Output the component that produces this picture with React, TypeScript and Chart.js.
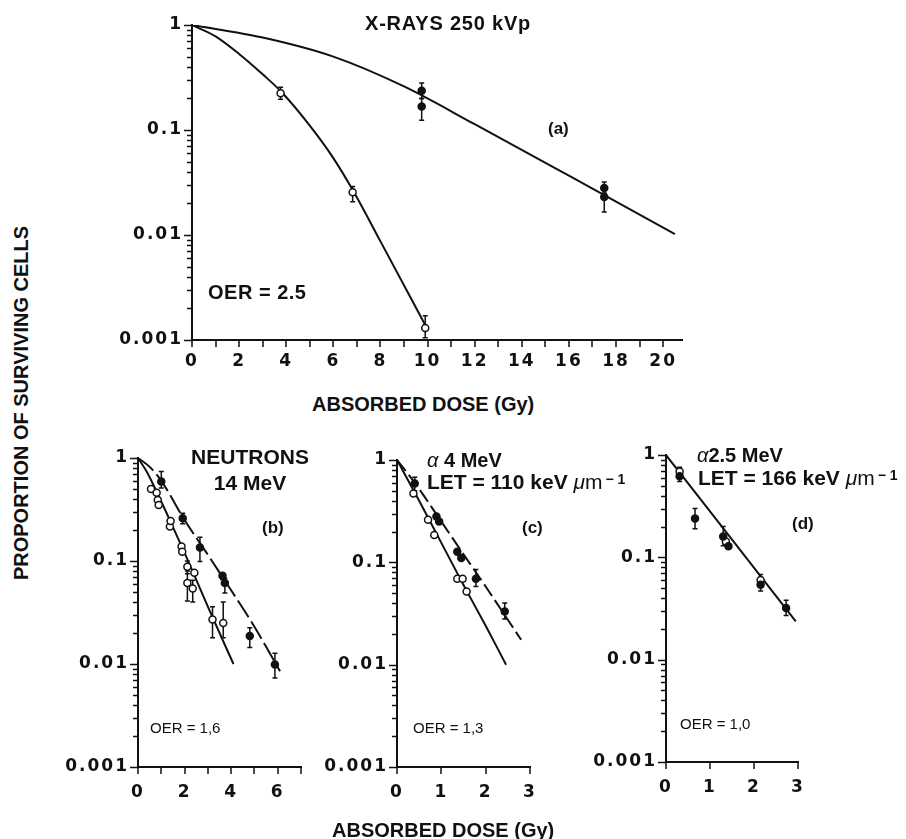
import React, { useEffect, useRef } from "react";
import { Chart, registerables } from "chart.js";

Chart.register(...registerables);

// ---- shared logarithmic survival axis ----
const yDecades = [0.001, 0.01, 0.1];
const yMultipliers = [1, 2, 3, 4, 5, 6, 7, 8, 9];
const yLabelValues = [0.001, 0.01, 0.1, 1];
const yLabelTexts = ["0.001", "0.01", "0.1", "1"];

// ---- (a) X-rays 250 kVp ----
const aXTicks = [0, 1, 2, 3, 4, 5, 6, 7, 8, 9, 10, 11, 12, 13, 14, 15, 16, 17, 18, 19, 20];
const aXLabels = [0, 2, 4, 6, 8, 10, 12, 14, 16, 18, 20];
const aOxicCurveDose = [0, 1, 2, 3, 3.8, 5, 6, 6.9, 8, 10];
const aOxicCurveSurv = [1, 0.78, 0.53, 0.339, 0.23, 0.11, 0.054, 0.025, 0.0087, 0.00126];
const aHypoxicCurveDose = [0, 3, 6, 9, 12, 16, 20.5];
const aHypoxicCurveSurv = [1, 0.76, 0.5, 0.26, 0.1135, 0.0367, 0.0102];
const aOxicDose = [3.76, 6.82, 9.9];
const aOxicSurv = [0.224, 0.0255, 0.0013];
const aOxicLow = [0.196, 0.0207, 0.00105];
const aOxicHigh = [0.255, 0.029, 0.0017];
const aHypoxicDose = [9.75, 9.75, 17.5, 17.5];
const aHypoxicSurv = [0.237, 0.167, 0.028, 0.023];
const aHypoxicLow = [0.2, 0.124, 0.025, 0.0166];
const aHypoxicHigh = [0.28, 0.2, 0.032, 0.025];

// ---- (b) neutrons 14 MeV ----
const bXTicks = [0, 1, 2, 3, 4, 5, 6, 7];
const bXLabels = [0, 2, 4, 6];
const bHypoxicCurveDose = [0, 0.5, 1, 2, 3, 4, 5, 6.1];
const bHypoxicCurveSurv = [1, 0.82, 0.6, 0.25, 0.115, 0.052, 0.023, 0.0085];
const bOxicCurveDose = [0, 0.4, 0.8, 1.4, 2, 3, 4.1];
const bOxicCurveSurv = [1, 0.72, 0.47, 0.24, 0.12, 0.036, 0.01];
const bHypoxicDose = [1.0, 1.92, 2.66, 3.63, 3.73, 4.8, 5.88];
const bHypoxicSurv = [0.59, 0.26, 0.135, 0.072, 0.061, 0.0187, 0.0099];
const bHypoxicLow = [0.51, 0.23, 0.099, 0.066, 0.049, 0.0145, 0.0073];
const bHypoxicHigh = [0.74, 0.29, 0.17, 0.076, 0.068, 0.0225, 0.0127];
const bOxicDose = [0.56, 0.8, 0.85, 0.89, 1.37, 1.4, 1.87, 1.9, 2.12, 2.12, 2.35, 2.42, 3.2, 3.66];
const bOxicSurv = [0.5, 0.46, 0.39, 0.35, 0.216, 0.245, 0.138, 0.123, 0.088, 0.061, 0.054, 0.077, 0.027, 0.025];
const bOxicLow = [null, null, null, null, null, null, null, null, 0.075, 0.041, 0.04, null, 0.018, 0.018];
const bOxicHigh = [null, null, null, null, null, null, null, null, 0.1, 0.08, 0.065, null, 0.036, 0.04];

// ---- (c) alpha 4 MeV ----
const cXTicks = [0, 1, 2, 3];
const cXLabels = [0, 1, 2, 3];
const cHypoxicCurveDose = [0, 0.4, 1, 1.5, 2, 2.8];
const cHypoxicCurveSurv = [1, 0.6, 0.25, 0.12, 0.058, 0.0175];
const cOxicCurveDose = [0, 0.5, 1, 1.5, 2, 2.46];
const cOxicCurveSurv = [1, 0.4, 0.155, 0.06, 0.024, 0.01];
const cHypoxicDose = [0.4, 0.89, 0.95, 1.36, 1.45, 1.78, 2.43];
const cHypoxicSurv = [0.59, 0.28, 0.25, 0.127, 0.11, 0.069, 0.033];
const cHypoxicLow = [0.5, null, null, null, null, 0.058, 0.028];
const cHypoxicHigh = [0.68, null, null, null, null, 0.085, 0.04];
const cOxicDose = [0.37, 0.7, 0.84, 1.36, 1.48, 1.57];
const cOxicSurv = [0.47, 0.26, 0.185, 0.069, 0.069, 0.052];

// ---- (d) alpha 2.5 MeV ----
const dXTicks = [0, 1, 2, 3];
const dXLabels = [0, 1, 2, 3];
const dCurveDose = [0, 2.95];
const dCurveSurv = [1, 0.0237];
const dHypoxicDose = [0.31, 0.66, 1.3, 1.42, 2.15, 2.73];
const dHypoxicSurv = [0.62, 0.24, 0.16, 0.128, 0.054, 0.032];
const dHypoxicLow = [0.55, 0.19, 0.13, null, 0.047, 0.027];
const dHypoxicHigh = [0.76, 0.3, 0.2, null, 0.068, 0.038];
const dOxicDose = [0.31, 1.36, 2.15];
const dOxicSurv = [0.69, 0.143, 0.06];

const yTickValues = [...yDecades.flatMap((d) => yMultipliers.map((m) => d * m)), 1];

const isMajorY = (v: number) =>
  yLabelValues.findIndex((m) => Math.abs(Math.log10(m) - Math.log10(v)) < 1e-6);

const pts = (xs: number[], ys: number[]) => xs.map((x, i) => ({ x, y: ys[i] }));

const curve = (xs: number[], ys: number[], dash: number[] = []) => ({
  type: "line",
  data: pts(xs, ys),
  borderColor: "#111",
  borderWidth: 2,
  borderDash: dash,
  pointRadius: 0,
  cubicInterpolationMode: "monotone",
  fill: false,
  order: 1,
});

const marks = (
  xs: number[],
  ys: number[],
  open: boolean,
  lo?: (number | null)[],
  hi?: (number | null)[]
) => ({
  type: "line",
  data: pts(xs, ys),
  showLine: false,
  pointRadius: 3.5,
  pointBackgroundColor: open ? "#fff" : "#111",
  pointBorderColor: "#111",
  pointBorderWidth: 1.5,
  errLow: lo,
  errHigh: hi,
  order: 0,
});

// vertical error bars with small caps, drawn under the markers
const errorBarPlugin = {
  id: "errorBars",
  beforeDatasetsDraw(chart: any) {
    const { ctx } = chart;
    const xs = chart.scales.x;
    const ys = chart.scales.y;
    ctx.save();
    ctx.strokeStyle = "#111";
    ctx.lineWidth = 1.5;
    chart.data.datasets.forEach((ds: any) => {
      if (!ds.errLow) return;
      ds.data.forEach((p: any, i: number) => {
        const lo = ds.errLow[i];
        const hi = ds.errHigh[i];
        if (lo == null || hi == null) return;
        const x = xs.getPixelForValue(p.x);
        const y1 = ys.getPixelForValue(lo);
        const y2 = ys.getPixelForValue(hi);
        ctx.beginPath();
        ctx.moveTo(x, y1);
        ctx.lineTo(x, y2);
        ctx.moveTo(x - 2.5, y1);
        ctx.lineTo(x + 2.5, y1);
        ctx.moveTo(x - 2.5, y2);
        ctx.lineTo(x + 2.5, y2);
        ctx.stroke();
      });
    });
    ctx.restore();
  },
};

// tick marks: dose ticks below the x axis, log-decade ticks left of the y axis
const axisTickPlugin = {
  id: "axisTicks",
  afterDraw(chart: any, _args: any, opts: any) {
    const { ctx, chartArea: a } = chart;
    const xs = chart.scales.x;
    const ys = chart.scales.y;
    ctx.save();
    ctx.strokeStyle = "#111";
    ctx.lineWidth = 1.5;
    ctx.beginPath();
    (opts.xTicks || []).forEach((v: number) => {
      const px = Math.round(xs.getPixelForValue(v));
      ctx.moveTo(px, a.bottom);
      ctx.lineTo(px, a.bottom + 7);
    });
    yTickValues.forEach((v) => {
      const py = Math.round(ys.getPixelForValue(v)) + 0.5;
      const len = isMajorY(v) >= 0 ? 8 : 5;
      ctx.moveTo(a.left - len, py);
      ctx.lineTo(a.left, py);
    });
    ctx.stroke();
    ctx.restore();
  },
};

// slightly spaced-out tick numerals
const tickSpacingPlugin = {
  id: "tickSpacing",
  beforeDraw(chart: any) {
    chart.ctx.letterSpacing = "2px";
  },
  afterDraw(chart: any) {
    chart.ctx.letterSpacing = "0px";
  },
};

type PanelSpec = {
  left: number;
  top: number;
  right: number;
  bottom: number;
  xMax: number;
  xTicks: number[];
  xLabels: number[];
  xLabelPad: number;
  datasets: any[];
};

const panels: PanelSpec[] = [
  {
    left: 192, top: 25, right: 682, bottom: 340, xMax: 20.8,
    xTicks: aXTicks, xLabels: aXLabels, xLabelPad: 4,
    datasets: [
      curve(aOxicCurveDose, aOxicCurveSurv),
      curve(aHypoxicCurveDose, aHypoxicCurveSurv),
      marks(aOxicDose, aOxicSurv, true, aOxicLow, aOxicHigh),
      marks(aHypoxicDose, aHypoxicSurv, false, aHypoxicLow, aHypoxicHigh),
    ],
  },
  {
    left: 138, top: 458, right: 301, bottom: 767, xMax: 7,
    xTicks: bXTicks, xLabels: bXLabels, xLabelPad: 8,
    datasets: [
      curve(bHypoxicCurveDose, bHypoxicCurveSurv, [20, 5]),
      curve(bOxicCurveDose, bOxicCurveSurv),
      marks(bOxicDose, bOxicSurv, true, bOxicLow, bOxicHigh),
      marks(bHypoxicDose, bHypoxicSurv, false, bHypoxicLow, bHypoxicHigh),
    ],
  },
  {
    left: 397, top: 460, right: 530, bottom: 767, xMax: 3,
    xTicks: cXTicks, xLabels: cXLabels, xLabelPad: 8,
    datasets: [
      curve(cHypoxicCurveDose, cHypoxicCurveSurv, [14, 5]),
      curve(cOxicCurveDose, cOxicCurveSurv),
      marks(cOxicDose, cOxicSurv, true),
      marks(cHypoxicDose, cHypoxicSurv, false, cHypoxicLow, cHypoxicHigh),
    ],
  },
  {
    left: 666, top: 455, right: 798, bottom: 762, xMax: 3,
    xTicks: dXTicks, xLabels: dXLabels, xLabelPad: 8,
    datasets: [
      curve(dCurveDose, dCurveSurv),
      marks(dHypoxicDose, dHypoxicSurv, false, dHypoxicLow, dHypoxicHigh),
      marks(dOxicDose, dOxicSurv, true),
    ],
  },
];

const PAD_L = 100;
const PAD_T = 14;
const PAD_R = 30;
const PAD_B = 46;

const tickFont = { family: "'DejaVu Sans', sans-serif", weight: "bold" as const, size: 17 };
const hiddenGrid = {
  display: true,
  drawOnChartArea: false,
  drawTicks: true,
  color: "rgba(0,0,0,0)",
};

function Panel({ spec }: { spec: PanelSpec }) {
  const ref = useRef<HTMLCanvasElement>(null);
  const W = spec.right - spec.left + PAD_L + PAD_R;
  const H = spec.bottom - spec.top + PAD_T + PAD_B;

  useEffect(() => {
    if (!ref.current) return;
    const chart = new Chart(ref.current, {
      type: "line",
      data: { datasets: spec.datasets as any },
      plugins: [errorBarPlugin, axisTickPlugin, tickSpacingPlugin],
      options: {
        responsive: false,
        animation: false,
        devicePixelRatio: 1,
        layout: { padding: { left: 0, top: PAD_T, right: PAD_R, bottom: 0 } },
        plugins: {
          legend: { display: false },
          tooltip: { enabled: false },
          axisTicks: { xTicks: spec.xTicks },
        },
        scales: {
          x: {
            type: "linear",
            min: 0,
            max: spec.xMax,
            afterBuildTicks: (s: any) => {
              s.ticks = spec.xTicks.map((v) => ({ value: v }));
            },
            afterFit: (s: any) => {
              s.height = PAD_B;
            },
            ticks: {
              autoSkip: false,
              maxRotation: 0,
              padding: spec.xLabelPad,
              color: "#111",
              font: tickFont,
              callback: (v: any) =>
                spec.xLabels.some((l) => Math.abs(l - Number(v)) < 1e-9) ? String(v) : "",
            },
            grid: { ...hiddenGrid, tickLength: 7 },
            border: { display: true, color: "#111", width: 2 },
          },
          y: {
            type: "logarithmic",
            min: 0.001,
            max: 1,
            afterBuildTicks: (s: any) => {
              s.ticks = yTickValues.map((v) => ({ value: v }));
            },
            afterFit: (s: any) => {
              s.width = PAD_L;
            },
            ticks: {
              autoSkip: false,
              padding: 3,
              color: "#111",
              font: tickFont,
              callback: (v: any) => {
                const i = isMajorY(Number(v));
                return i >= 0 ? yLabelTexts[i] : "";
              },
            },
            grid: { ...hiddenGrid, tickLength: 6 },
            border: { display: true, color: "#111", width: 2 },
          },
        },
      } as any,
    });
    return () => chart.destroy();
  }, [spec]);

  return (
    <canvas
      ref={ref}
      width={W}
      height={H}
      style={{ position: "absolute", left: spec.left - PAD_L, top: spec.top - PAD_T, width: W, height: H }}
    />
  );
}

function Label({
  x,
  y,
  size,
  bold = true,
  center = false,
  spacing = 0,
  children,
}: {
  x: number;
  y: number;
  size: number;
  bold?: boolean;
  center?: boolean;
  spacing?: number;
  children: React.ReactNode;
}) {
  return (
    <div
      style={{
        position: "absolute",
        left: x,
        top: y,
        transform: center ? "translate(-50%, -50%)" : "translateY(-50%)",
        fontSize: size,
        fontWeight: bold ? 700 : 400,
        lineHeight: 1,
        whiteSpace: "nowrap",
        letterSpacing: spacing,
        color: "#111",
      }}
    >
      {children}
    </div>
  );
}

const alpha = <span style={{ fontStyle: "italic", fontWeight: 400 }}>α</span>;
const perMicron = (
  <>
    <span style={{ fontStyle: "italic", fontWeight: 400 }}>μ</span>
    <span style={{ fontWeight: 400 }}>m</span>
    <span style={{ fontSize: 14, position: "relative", top: -5, marginLeft: 3 }}>− 1</span>
  </>
);

export default function App() {
  return (
    <div
      style={{
        position: "absolute",
        left: 0,
        top: 0,
        width: 906,
        height: 839,
        overflow: "hidden",
        background: "#fff",
        fontFamily: "'Liberation Sans', Arial, Helvetica, sans-serif",
      }}
    >
      {panels.map((p, i) => (
        <Panel key={i} spec={p} />
      ))}

      <Label x={365} y={23} size={20} spacing={0.8}>X-RAYS 250 kVp</Label>
      <Label x={548} y={128} size={17}>(a)</Label>
      <Label x={208} y={292} size={20} spacing={0.5}>OER = 2.5</Label>
      <Label x={312} y={404} size={20}>ABSORBED DOSE (Gy)</Label>

      <div
        style={{
          position: "absolute",
          left: 21,
          top: 403,
          transform: "translate(-50%, -50%) rotate(-90deg)",
          fontSize: 20,
          fontWeight: 700,
          lineHeight: 1,
          whiteSpace: "nowrap",
          color: "#111",
        }}
      >
        PROPORTION OF SURVIVING CELLS
      </div>

      <Label x={250} y={456} size={21} center>NEUTRONS</Label>
      <Label x={250} y={482} size={21} center>14 MeV</Label>
      <Label x={262} y={527} size={17}>(b)</Label>
      <Label x={150} y={727} size={15} bold={false}>OER = 1,6</Label>

      <Label x={427} y={460} size={20}>{alpha} 4 MeV</Label>
      <Label x={427} y={481} size={21}>LET = 110 keV {perMicron}</Label>
      <Label x={522} y={527} size={17}>(c)</Label>
      <Label x={413} y={727} size={15} bold={false}>OER = 1,3</Label>

      <Label x={697} y={455} size={20}>{alpha}2.5 MeV</Label>
      <Label x={698} y={477} size={21}>LET = 166 keV {perMicron}</Label>
      <Label x={792} y={523} size={17}>(d)</Label>
      <Label x={680} y={723} size={15} bold={false}>OER = 1,0</Label>

      <Label x={332} y={830} size={20}>ABSORBED DOSE (Gy)</Label>
    </div>
  );
}
